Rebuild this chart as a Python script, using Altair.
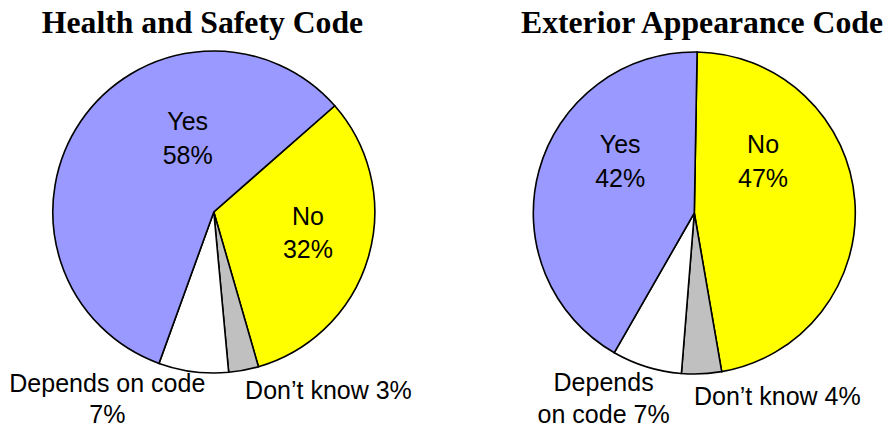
import math
import altair as alt
import pandas as pd

# ---- data ----
pie_names = ["Health and Safety Code", "Exterior Appearance Code"]
categories = ["No", "Don't know", "Depends on code", "Yes"]
slice_order = [1, 2, 3, 4]
health_values = [32, 3, 7, 58]
exterior_values = [47, 4, 7, 42]
health_labels = ["No\n32%", "Don\u2019t know 3%", "Depends on code\n7%", "Yes\n58%"]
exterior_labels = ["No\n47%", "Don\u2019t know 4%", "Depends\non code 7%", "Yes\n42%"]
slice_colors = ["#FFFF00", "#C0C0C0", "#FFFFFF", "#9999FF"]

BODY_FONT = "Liberation Sans, Arial"
TITLE_FONT = "Liberation Serif, Times New Roman"

# layout / style (not data): (radius, dx, dy, align, lineHeight) per slice label
x_scale = alt.Scale(type="point", domain=pie_names, range=[205.8, 686.3], padding=0)
pie_cfg = {
    "Health and Safety Code": dict(
        values=health_values, labels=health_labels, start=48.7, cy=204, title_dx=-11.3,
        place={1: (95, 3, -14, "center", 33), 2: (190, -4, 0, "left", 33),
               3: (185, -83, -4, "center", 31), 4: (80, 40, -37, "center", 34)}),
    "Exterior Appearance Code": dict(
        values=exterior_values, labels=exterior_labels, start=1.0, cy=205, title_dx=7.7,
        place={1: (80, -11, -54, "center", 34), 2: (190, -9, 2, "left", 33),
               3: (185, -36, 1, "center", 32), 4: (80, 3, -39, "center", 34)}),
}

layers = []
for name in pie_names:
    cfg = pie_cfg[name]
    df = pd.DataFrame({
        "chart": name,
        "cat": categories,
        "order": slice_order,
        "pct": cfg["values"],
        "label": cfg["labels"],
    })
    s = math.radians(cfg["start"])
    theta_scale = alt.Scale(domain=[0, 100], range=[s, s + 2 * math.pi])
    base = alt.Chart(df)
    x_enc = alt.X("chart:N", scale=x_scale, axis=None)
    arc = base.mark_arc(outerRadius=161, stroke="black", strokeWidth=1.6).encode(
        x=x_enc,
        y=alt.value(cfg["cy"]),
        theta=alt.Theta("pct:Q", stack=True, scale=theta_scale),
        order=alt.Order("order:Q"),
        color=alt.Color("cat:N", scale=alt.Scale(domain=categories, range=slice_colors), legend=None),
    )
    layers.append(arc)
    for o in slice_order:
        r, dx, dy, align, lh = cfg["place"][o]
        t = (
            base.transform_window(cum="sum(pct)", sort=[alt.SortField("order")], frame=[None, 0])
            .transform_calculate(mid="datum.cum - datum.pct / 2")
            .transform_filter(alt.datum.order == o)
            .mark_text(radius=r, dx=dx, dy=dy, align=align, baseline="alphabetic",
                       lineBreak="\n", font=BODY_FONT, fontSize=25, lineHeight=lh, color="black")
            .encode(
                x=x_enc,
                y=alt.value(cfg["cy"]),
                theta=alt.Theta("mid:Q", stack=False, scale=theta_scale),
                text="label:N",
            )
        )
        layers.append(t)
    title_df = pd.DataFrame({"chart": [name]})
    title = alt.Chart(title_df).mark_text(
        font=TITLE_FONT, fontSize=31.7, fontWeight="bold", align="center",
        baseline="alphabetic", dx=cfg["title_dx"], color="black",
    ).encode(x=alt.X("chart:N", scale=x_scale, axis=None), y=alt.value(25), text="chart:N")
    layers.append(title)

chart = (
    alt.layer(*layers)
    .resolve_scale(theta="independent")
    .properties(
        width=876,
        height=416,
        autosize=alt.AutoSizeParams(type="none"),
        padding=0,
        background="white",
    )
    .configure_view(strokeWidth=0)
)

chart.save("out.html", embed_options={"renderer": "svg", "actions": False})
